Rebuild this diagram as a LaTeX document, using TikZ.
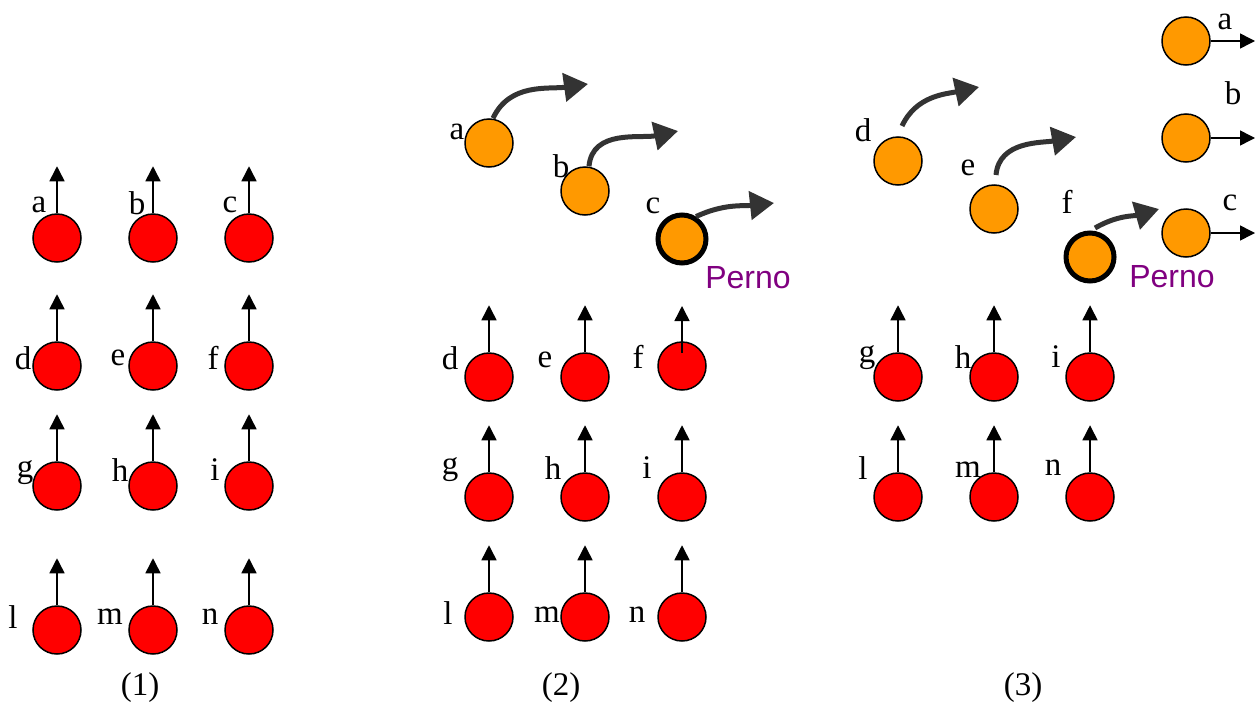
\documentclass[tikz,border=0pt]{standalone}
\usepackage{fontspec}
\setmainfont{Liberation Serif}
\newfontfamily\pernofont{Liberation Sans}
\usetikzlibrary{arrows.meta}
\definecolor{naranja}{RGB}{255,153,0}
\definecolor{morado}{RGB}{128,0,128}
\tikzset{
  bolaroja/.style={circle,draw,line width=1.5pt,fill=red,minimum size=48pt,inner sep=0pt},
  bolanaranja/.style={circle,draw,line width=1.5pt,fill=naranja,minimum size=48pt,inner sep=0pt},
  perno/.style={bolanaranja,line width=5pt},
  espin/.style={line width=1.5pt,-{Triangle[length=15pt,width=15pt]}},
  salto/.style={line width=5pt,draw=black!80,-{Triangle[length=24pt,width=28pt]}},
  etiq/.style={inner sep=0pt,font=\fontsize{33}{35}\selectfont},
  rotulo/.style={inner sep=0pt,text=morado,font=\pernofont\fontsize{32}{34}\selectfont},
}
\begin{document}
\begin{tikzpicture}[x=1pt,y=-1pt]
    \useasboundingbox (0,0) rectangle (1255,704);

    % (1) todos los espines hacia arriba
    \foreach \n/\x/\y/\lx/\ly in {a/57/238/39/205, b/153/238/137/203, c/249/238/230/205,
        d/57/366/23/358, e/153/366/118/358, f/249/366/213/358,
        g/57/486/25/473, h/153/486/120/470, i/249/486/215/470,
        l/57/630/13/617, m/153/630/110/617, n/249/630/210/617}{
        \node[bolaroja] (uno\n) at (\x,\y) {};
        \coordinate (uno\n t) at ([yshift=47pt]uno\n.north);
        \draw[espin] (uno\n.north) -- (uno\n t);
        \node[etiq] (unolab\n) at (\lx,\ly) {\n};
    }
    \node[etiq] (cap1) at (140,688) {(1)};

    % (2) salen a, b, c
    \foreach \n/\x/\y/\lx/\ly in {d/489/377/450/358, e/585/377/545/360,
        g/489/497/450/470, h/585/497/553/468, i/682/497/647/468,
        l/489/617/448/613, m/585/617/547/615, n/682/617/637/615}{
        \node[bolaroja] (dos\n) at (\x,\y) {};
        \coordinate (dos\n t) at ([yshift=47pt]dos\n.north);
        \draw[espin] (dos\n.north) -- (dos\n t);
        \node[etiq] (doslab\n) at (\lx,\ly) {\n};
    }
    \node[bolaroja] (dosf) at (682,366) {};
    \coordinate (dosfb) at (682,353);
    \coordinate (dosft) at (682,306);
    \draw[espin] (dosfb) -- (dosft);
    \node[etiq] (doslabf) at (638,357) {f};

    \node[bolanaranja] (dosa) at (489,143) {};
    \node[bolanaranja] (dosb) at (585,191) {};
    \node[perno] (dosc) at (682,239) {};
    \node[etiq] (doslaba) at (457,132) {a};
    \node[etiq] (doslabb) at (561,166) {b};
    \node[etiq] (doslabc) at (653,206) {c};
    \coordinate (dosat) at (588,84);
    \coordinate (dosbt) at (678,131);
    \coordinate (dosct) at (774,203);
    \draw[salto] ([xshift=4pt]dosa.north) to[out=65,in=188] (dosat);
    \draw[salto] ([xshift=4pt]dosb.north) to[out=85,in=192] (dosbt);
    \draw[salto] (dosc.58) to[out=25,in=186] (dosct);
    \node[rotulo] (dosperno) at (748,278) {Perno};
    \node[etiq] (cap2) at (561,688) {(2)};

    % (3) salen d, e, f
    \foreach \n/\x/\y/\lx/\ly in {g/898/377/867/358, h/994/377/963/357, i/1090/377/1056/357,
        l/898/497/863/468, m/994/497/968/470, n/1090/497/1053/468}{
        \node[bolaroja] (tres\n) at (\x,\y) {};
        \coordinate (tres\n t) at ([yshift=47pt]tres\n.north);
        \draw[espin] (tres\n.north) -- (tres\n t);
        \node[etiq] (treslab\n) at (\lx,\ly) {\n};
    }
    \node[bolanaranja] (tresd) at (898,161) {};
    \node[bolanaranja] (trese) at (994,209) {};
    \node[perno] (tresf) at (1090,257) {};
    \node[etiq] (treslabd) at (863,130) {d};
    \node[etiq] (treslabe) at (968,168) {e};
    \node[etiq] (treslabf) at (1067,202) {f};
    \coordinate (tresds) at (902,126);
    \coordinate (treses) at (996,175);
    \coordinate (tresfs) at (1095,228);
    \coordinate (tresdt) at (979,87);
    \coordinate (trest) at (1076,137);
    \coordinate (tresft) at (1159,209);
    \draw[salto] (tresds) to[out=65,in=192] (tresdt);
    \draw[salto] (treses) to[out=85,in=190] (trest);
    \draw[salto] (tresfs) to[out=30,in=196] (tresft);
    \node[rotulo] (tresperno) at (1172,277) {Perno};

    \foreach \n/\y/\lx/\ly in {a/41/1225/22, b/138/1233/93, c/233/1230/203}{
        \node[bolanaranja] (fuera\n) at (1186,\y) {};
        \coordinate (fuera\n t) at (1255,\y);
        \draw[espin] (fuera\n.east) -- (fuera\n t);
        \node[etiq] (fueralab\n) at (\lx,\ly) {\n};
    }
    \node[etiq] (cap3) at (1023,688) {(3)};
\end{tikzpicture}
\end{document}
